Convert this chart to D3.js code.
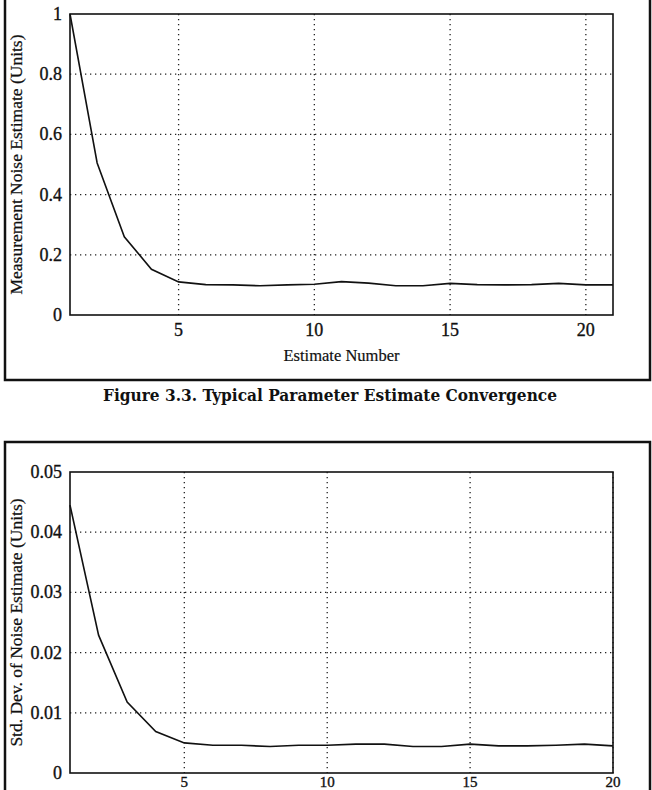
<!DOCTYPE html>
<html>
<head>
<meta charset="utf-8">
<script src="https://cdn.jsdelivr.net/npm/d3@7"></script>
<style>
  body { margin: 0; background: #fff; }
  svg text { font-family: "Liberation Serif", "DejaVu Serif", serif; fill: #111; }
</style>
</head>
<body>
<svg id="vis" width="652" height="790"></svg>
<script>
// estimate numbers
var estNumTop = d3.range(1, 22);
var estNumBottom = d3.range(1, 21);

var noiseEst = [1.0, 0.505, 0.26, 0.152, 0.11, 0.101, 0.10, 0.097, 0.10, 0.102,
                0.111, 0.106, 0.097, 0.097, 0.105, 0.101, 0.10, 0.101, 0.105, 0.10, 0.10];

// std. dev. of noise estimate (units)
var noiseStd = [0.0445, 0.0229, 0.0118, 0.0069, 0.0050, 0.0046, 0.0046, 0.0044, 0.0046, 0.0046,
                0.0048, 0.0048, 0.0044, 0.0044, 0.0048, 0.0045, 0.0045, 0.0046, 0.0048, 0.0045];

var xTicks = [5, 10, 15, 20];
var yTicksTop = [0, 0.2, 0.4, 0.6, 0.8, 1];
var yTicksBottom = [0, 0.01, 0.02, 0.03, 0.04, 0.05];

var svg = d3.select('#vis');

//outer frames round each figure
svg.append('rect')
    .attr('x', 5).attr('y', -10).attr('width', 645).attr('height', 390)
    .attr('fill', 'none').attr('stroke', '#111').attr('stroke-width', 2.5);
svg.append('rect')
    .attr('x', 5).attr('y', 442).attr('width', 645).attr('height', 400)
    .attr('fill', 'none').attr('stroke', '#111').attr('stroke-width', 2.5);

svg.append('text')
    .attr('x', 330).attr('y', 401)
    .attr('text-anchor', 'middle')
    .style('font-family', '"DejaVu Serif", serif')
    .style('font-weight', 'bold')
    .style('font-size', '16.5px')
    .attr('textLength', 454)
    .attr('lengthAdjust', 'spacingAndGlyphs')
    .text('Figure 3.3.  Typical Parameter Estimate Convergence');

function drawPlot(opt) {
    var x = d3.scaleLinear().domain(opt.xDomain).range([opt.left, opt.right]);
    var y = d3.scaleLinear().domain(opt.yDomain).range([opt.bottom, opt.top]);
    var g = svg.append('g');

    // dotted grid
    g.selectAll('.vgrid').data(opt.xTicks).enter()
        .append('line')
        .attr('x1', function(d){ return x(d); }).attr('x2', function(d){ return x(d); })
        .attr('y1', opt.top).attr('y2', opt.bottom)
        .attr('stroke', '#222').attr('stroke-width', 1.3)
        .attr('stroke-dasharray', '1.3,3.7');
    g.selectAll('.hgrid').data(opt.yTicks.slice(1, -1)).enter()
        .append('line')
        .attr('y1', function(d){ return y(d); }).attr('y2', function(d){ return y(d); })
        .attr('x1', opt.left).attr('x2', opt.right)
        .attr('stroke', '#222').attr('stroke-width', 1.3)
        .attr('stroke-dasharray', '1.3,3.7');

    g.append('rect')
        .attr('x', opt.left).attr('y', opt.top)
        .attr('width', opt.right - opt.left).attr('height', opt.bottom - opt.top)
        .attr('fill', 'none').attr('stroke', '#111').attr('stroke-width', 1.6);

    var line = d3.line()
        .x(function(d, i){ return x(opt.xs[i]); })
        .y(function(d){ return y(d); });

    g.append('path')
        .datum(opt.values)
        .attr('d', line)
        .attr('fill', 'none').attr('stroke', '#111').attr('stroke-width', 1.6);

    // tick labels
    g.selectAll('.xlab').data(opt.xTicks).enter()
        .append('text')
        .attr('x', function(d){ return x(d); })
        .attr('y', opt.bottom + opt.xLabOff)
        .attr('text-anchor', 'middle')
        .style('font-size', opt.xLabSize + 'px')
        .style('stroke', '#111').style('stroke-width', 0.35)
        .text(function(d){ return d; });
    g.selectAll('.ylab').data(opt.yTicks).enter()
        .append('text')
        .attr('x', opt.left - 8)
        .attr('y', function(d){ return y(d) + 6; })
        .attr('text-anchor', 'end')
        .style('font-size', '18px')
        .style('stroke', '#111').style('stroke-width', 0.35)
        .text(function(d){ return d; });

    g.append('text')
        .attr('transform', 'translate(' + 22 + ',' + ((opt.top + opt.bottom) / 2) + ') rotate(-90)')
        .attr('text-anchor', 'middle')
        .style('font-size', '17.5px')
        .style('stroke', '#111').style('stroke-width', 0.25)
        .text(opt.yTitle);

    if (opt.xTitle) {
        g.append('text')
            .attr('x', (opt.left + opt.right) / 2)
            .attr('y', 361)
            .attr('text-anchor', 'middle')
            .style('font-size', '16.5px')
            .style('stroke', '#111').style('stroke-width', 0.2)
            .text(opt.xTitle);
    }
}

drawPlot({
    xs: estNumTop, values: noiseEst,
    xDomain: [1, 21], yDomain: [0, 1],
    xTicks: xTicks, yTicks: yTicksTop,
    left: 70, right: 613, top: 14, bottom: 315, xLabOff: 21, xLabSize: 18,
    yTitle: 'Measurement Noise Estimate (Units)',
    xTitle: 'Estimate Number'
});

// last row of tick labels sits at the page edge, kept a bit smaller so it fits
drawPlot({
    xs: estNumBottom, values: noiseStd,
    xDomain: [1, 20], yDomain: [0, 0.05],
    xTicks: xTicks, yTicks: yTicksBottom,
    left: 70, right: 613, top: 472, bottom: 773, xLabOff: 14, xLabSize: 15,
    yTitle: 'Std. Dev. of Noise Estimate (Units)'
});
</script>
</body>
</html>
